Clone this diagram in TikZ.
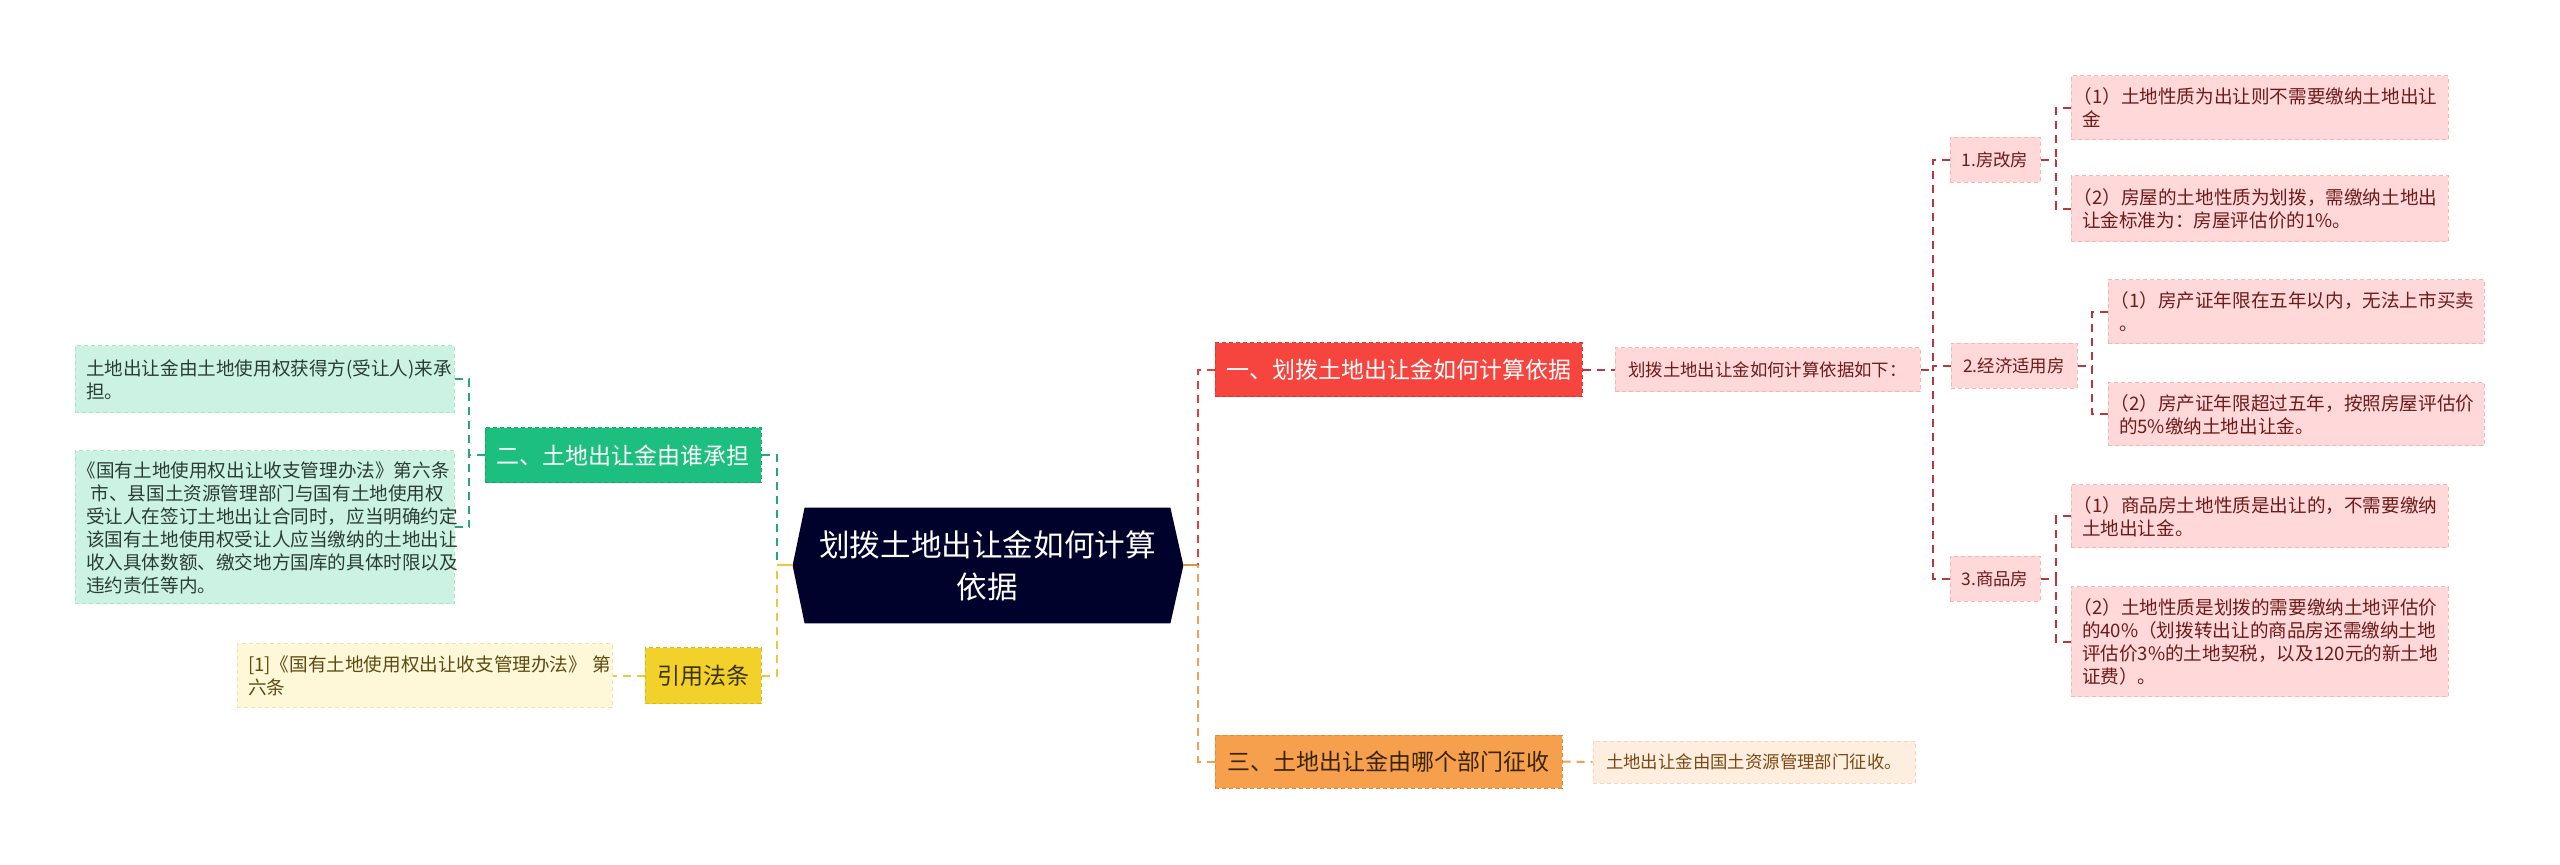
\documentclass[tikz,border=0pt]{standalone}
\usepackage{fontspec}
\setmainfont{Noto Sans CJK SC}
\usetikzlibrary{backgrounds}
\definecolor{navy}{HTML}{00022B}
\definecolor{greenM}{HTML}{1DBF7E}
\definecolor{greenMD}{HTML}{12A86A}
\definecolor{greenL}{HTML}{CCF2E3}
\definecolor{greenLD}{HTML}{A8E3CB}
\definecolor{greenT}{HTML}{2A3D34}
\definecolor{greenC}{HTML}{23A97A}
\definecolor{yelM}{HTML}{F2D12A}
\definecolor{yelMD}{HTML}{D9B81C}
\definecolor{yelT}{HTML}{3B3200}
\definecolor{yelL}{HTML}{FEF8D8}
\definecolor{yelLD}{HTML}{F0E4A8}
\definecolor{yelLT}{HTML}{5C4B12}
\definecolor{yelC}{HTML}{EDC83A}
\definecolor{redM}{HTML}{F5453E}
\definecolor{redMD}{HTML}{D83830}
\definecolor{redC}{HTML}{E0403C}
\definecolor{pinkF}{HTML}{FFD9D9}
\definecolor{pinkD}{HTML}{F5B5B5}
\definecolor{pinkT}{HTML}{6E1A1A}
\definecolor{pinkC}{HTML}{B9383C}
\definecolor{oraM}{HTML}{F6A04E}
\definecolor{oraMD}{HTML}{E08A38}
\definecolor{oraT}{HTML}{3A2300}
\definecolor{oraL}{HTML}{FDEEDF}
\definecolor{oraLD}{HTML}{F5D7B8}
\definecolor{oraLT}{HTML}{7A4914}
\definecolor{oraC}{HTML}{EFA352}
\newcommand\myLP{\leavevmode\kern-0.45em（}
\newcommand\myLB{\leavevmode\kern-0.45em《}
\begin{document}
\begin{tikzpicture}[x=0.5pt,y=-0.5pt,
  conn/.style={line width=1pt, dash pattern=on 4pt off 3pt},
  connS/.style={line width=1pt},
  base/.style={rectangle, draw, line width=0.5pt, dash pattern=on 2pt off 1.5pt, inner ysep=0pt},
  mainbox/.style={base, inner xsep=4pt, align=center, font=\fontsize{11.5pt}{14pt}\selectfont},
  subbox/.style={base, inner xsep=3pt, align=center, font=\fontsize{8.7pt}{11pt}\selectfont},
  leaf/.style={base, inner xsep=5.5pt, align=left, font=\fontsize{9.3pt}{11.5pt}\selectfont},
  pinkbox/.style={fill=pinkF, draw=pinkD, text=pinkT},
  greenleaf/.style={leaf, fill=greenL, draw=greenLD, text=greenT},
]
\begin{pgfonlayer}{background}
\fill[white] (0,0) rectangle (2560,865);
\end{pgfonlayer}
\useasboundingbox (0,0) rectangle (2560,865);

% center
\node[font=\fontsize{15.3pt}{21pt}\selectfont, text=white, align=center,
  minimum width=182.5pt, minimum height=57.5pt, inner sep=0pt] (c) at (987.5,565.5)
  {划拨土地出让金如何计算\\依据};
\coordinate (cL) at ([xshift=-6pt]c.west);
\coordinate (cR) at ([xshift=6.5pt]c.east);
\begin{pgfonlayer}{background}
\fill[navy] (cL) -- (c.north west) -- (c.north east) -- (cR) -- (c.south east) -- (c.south west) -- cycle;
\end{pgfonlayer}

% left side
\node[mainbox, fill=greenM, draw=greenMD, text=white, minimum width=138pt, minimum height=27.5pt] (g) at (623,455.5) {二、土地出让金由谁承担};
\node[greenleaf, minimum width=189.5pt, text width=178.5pt, minimum height=33.5pt] (g1) at (264.5,379.5)
  {土地出让金由土地使用权获得方(受让人)来承\\担。};
\node[greenleaf, minimum width=189.5pt, text width=178.5pt, minimum height=76.5pt] (g2) at (264.5,527.5)
  {\myLB 国有土地使用权出让收支管理办法》第六条\\\leavevmode\kern0.25em 市、县国土资源管理部门与国有土地使用权\\受让人在签订土地出让合同时，应当明确约定\\该国有土地使用权受让人应当缴纳的土地出让\\收入具体数额、缴交地方国库的具体时限以及\\违约责任等内。};
\node[mainbox, fill=yelM, draw=yelMD, text=yelT, minimum width=58pt, minimum height=28pt] (yy) at (703,676) {引用法条};
\node[leaf, fill=yelL, draw=yelLD, text=yelLT, minimum width=187.5pt, text width=176.5pt, minimum height=32pt] (y1) at (424.5,676)
  {[1]《国有土地使用权出让收支管理办法》\nobreak\kern0.3em 第\\六条};

% right side
\node[mainbox, fill=redM, draw=redMD, text=white, minimum width=183.5pt, minimum height=27pt] (r) at (1398.5,370) {一、划拨土地出让金如何计算依据};
\node[subbox, pinkbox, minimum width=152.5pt, minimum height=22pt] (r1) at (1767.5,370) {划拨土地出让金如何计算依据如下：};
\node[subbox, pinkbox, minimum width=45pt, minimum height=22.5pt] (a) at (1995,160) {1.房改房};
\node[subbox, pinkbox, minimum width=63pt, minimum height=22.5pt] (b) at (2014,366) {2.经济适用房};
\node[subbox, pinkbox, minimum width=45pt, minimum height=22.5pt] (cc) at (1995,579) {3.商品房};

\node[leaf, pinkbox, minimum width=188.5pt, text width=177.5pt, minimum height=32pt] (a1) at (2259.5,108)
  {\myLP 1）土地性质为出让则不需要缴纳土地出让\\金};
\node[leaf, pinkbox, minimum width=188.5pt, text width=177.5pt, minimum height=33pt] (a2) at (2259.5,209)
  {\myLP 2）房屋的土地性质为划拨，需缴纳土地出\\让金标准为：房屋评估价的1\%。};
\node[leaf, pinkbox, minimum width=188pt, text width=177pt, minimum height=32pt] (b1) at (2296,312)
  {\myLP 1）房产证年限在五年以内，无法上市买卖\\。};
\node[leaf, pinkbox, minimum width=188pt, text width=177pt, minimum height=31.5pt] (b2) at (2296,414.5)
  {\myLP 2）房产证年限超过五年，按照房屋评估价\\的5\%缴纳土地出让金。};
\node[leaf, pinkbox, minimum width=188.5pt, text width=177.5pt, minimum height=31.5pt] (c1) at (2259.5,516.5)
  {\myLP 1）商品房土地性质是出让的，不需要缴纳\\土地出让金。};
\node[leaf, pinkbox, minimum width=188.5pt, text width=177.5pt, minimum height=55pt] (c2) at (2259.5,642)
  {\myLP 2）土地性质是划拨的需要缴纳土地评估价\\的40\%（划拨转出让的商品房还需缴纳土地\\评估价3\%的土地契税，以及120元的新土地\\证费）。};

\node[mainbox, fill=oraM, draw=oraMD, text=oraT, minimum width=173.5pt, minimum height=26.5pt] (o) at (1388.5,761.5) {三、土地出让金由哪个部门征收};
\node[subbox, fill=oraL, draw=oraLD, text=oraLT, minimum width=161pt, minimum height=21pt] (o1) at (1754,762) {土地出让金由国土资源管理部门征收。};

% trunk coordinates
\coordinate (tR) at (1198,565.5);
\coordinate (tL) at (777,565.5);
\coordinate (tg) at (469,455.5);
\coordinate (t1) at (1933,370);
\coordinate (ta) at (2056,160);
\coordinate (tb) at (2092,366);
\coordinate (tc) at (2056,579);

% connectors
\draw[connS, draw=yelC] (cL) -- (tL);
\draw[conn, draw=greenC] (g.east) -| (tL);
\draw[conn, draw=yelC] (yy.east) -| (tL);
\draw[conn, draw=greenC] (g.west) -- (tg);
\draw[conn, draw=greenC] (g1.east) -| (tg);
\draw[conn, draw=greenC] (g2.east) -| (tg);
\draw[conn, draw=yelC] (yy.west) -- (y1.east);

\draw[connS, draw=oraC!90!black] (cR) -- (tR);
\draw[conn, draw=redC] (r.west) -| (tR);
\draw[conn, draw=oraC] (o.west) -| (tR);
\draw[conn, draw=pinkC] (r.east) -- (r1.west);
\draw[conn, draw=oraC] (o.east) -- (o1.west);
\draw[conn, draw=pinkC] (r1.east) -- (t1);
\draw[conn, draw=pinkC] (a.west) -| (t1);
\draw[conn, draw=pinkC] (b.west) -| (t1);
\draw[conn, draw=pinkC] (cc.west) -| (t1);
\draw[conn, draw=pinkC] (a.east) -- (ta);
\draw[conn, draw=pinkC] (a1.west) -| (ta);
\draw[conn, draw=pinkC] (a2.west) -| (ta);
\draw[conn, draw=pinkC] (b.east) -- (tb);
\draw[conn, draw=pinkC] (b1.west) -| (tb);
\draw[conn, draw=pinkC] (b2.west) -| (tb);
\draw[conn, draw=pinkC] (cc.east) -- (tc);
\draw[conn, draw=pinkC] (c1.west) -| (tc);
\draw[conn, draw=pinkC] (c2.west) -| (tc);
\end{tikzpicture}
\end{document}
